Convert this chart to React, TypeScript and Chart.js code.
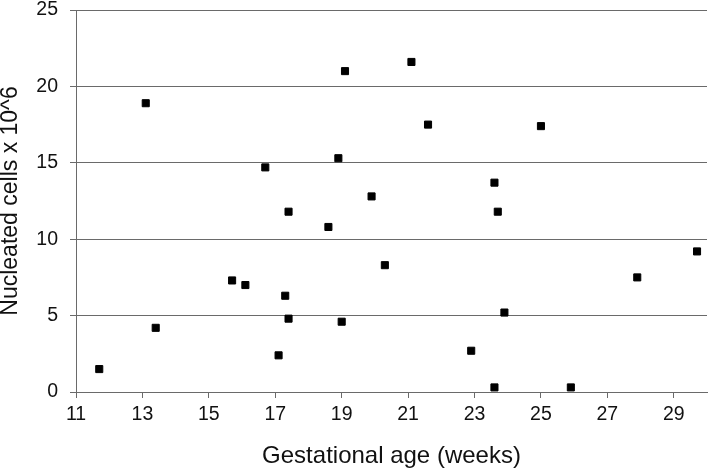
import React, { useEffect, useRef } from "react";
import { Chart, registerables } from "chart.js";

Chart.register(...registerables);

const gestationalAge = [11.7, 13.1, 13.4, 15.7, 16.1, 16.7, 17.1, 17.3, 17.4, 17.4, 18.6, 18.9, 19.1, 19.0, 19.9, 20.3, 21.1, 21.6, 22.9, 23.6, 23.7, 23.6, 23.9, 25.0, 25.9, 27.9, 29.7];
const nucleatedCells = [1.5, 18.9, 4.2, 7.3, 7.0, 14.7, 2.4, 6.3, 4.8, 11.8, 10.8, 15.3, 21.0, 4.6, 12.8, 8.3, 21.6, 17.5, 2.7, 13.7, 11.8, 0.3, 5.2, 17.4, 0.3, 7.5, 9.2];
const xTickValues = [11, 13, 15, 17, 19, 21, 23, 25, 27, 29];
const yTickValues = [0, 5, 10, 15, 20, 25];

const FONT = "'Liberation Sans', Arial, sans-serif";
const LINE = "#6a6a6a";

export default function App() {
  const ref = useRef<HTMLCanvasElement | null>(null);
  useEffect(() => {
    document.body.style.margin = "0";
    const ctx = ref.current!.getContext("2d")!;
    const points = gestationalAge.map((x, i) => ({ x, y: nucleatedCells[i] }));
    const chart = new Chart(ctx, {
      type: "scatter",
      data: {
        datasets: [
          {
            data: points,
            pointStyle: "rect",
            pointRadius: 5,
            pointHoverRadius: 5,
            backgroundColor: "#000000",
            borderColor: "#000000",
            borderWidth: 1,
            clip: false,
          },
        ],
      },
      options: {
        animation: false,
        responsive: false,
        maintainAspectRatio: false,
        layout: { autoPadding: false, padding: { top: 10, right: 2, left: 0, bottom: 0 } },
        plugins: { legend: { display: false }, tooltip: { enabled: false } },
        scales: {
          x: {
            type: "linear",
            min: 11,
            max: 30,
            afterBuildTicks: (scale: any) => {
              scale.ticks = xTickValues.map((v) => ({ value: v }));
            },
            afterFit: (scale: any) => {
              scale.height = 83;
              scale.paddingLeft = 0;
              scale.paddingRight = 0;
            },
            grid: {
              display: true,
              drawOnChartArea: false,
              drawTicks: true,
              tickLength: 6,
              color: LINE,
            },
            border: { display: true, color: LINE, width: 1 },
            ticks: {
              padding: 5,
              color: "#111111",
              font: { family: FONT, size: 19.5 },
              maxRotation: 0,
            },
            title: {
              display: true,
              text: "Gestational age (weeks)",
              color: "#111111",
              font: { family: FONT, size: 24 },
              padding: { top: 0, bottom: 4 },
            },
          },
          y: {
            type: "linear",
            min: 0,
            max: 25,
            afterBuildTicks: (scale: any) => {
              scale.ticks = yTickValues.map((v) => ({ value: v }));
            },
            afterFit: (scale: any) => {
              scale.width = 76;
              scale.paddingTop = 0;
              scale.paddingBottom = 0;
            },
            grid: {
              display: true,
              drawOnChartArea: true,
              drawTicks: true,
              tickLength: 6,
              color: LINE,
            },
            border: { display: true, color: LINE, width: 1 },
            ticks: {
              padding: 12,
              color: "#111111",
              font: { family: FONT, size: 19.5 },
            },
            title: {
              display: true,
              text: "Nucleated cells x 10^6",
              color: "#111111",
              font: { family: FONT, size: 23 },
              padding: { top: -3, bottom: 0 },
            },
          },
        },
      },
    });
    return () => chart.destroy();
  }, []);
  return (
    <div style={{ width: 709, height: 475, background: "#ffffff" }}>
      <canvas ref={ref} width={709} height={475} style={{ display: "block" }} />
    </div>
  );
}
